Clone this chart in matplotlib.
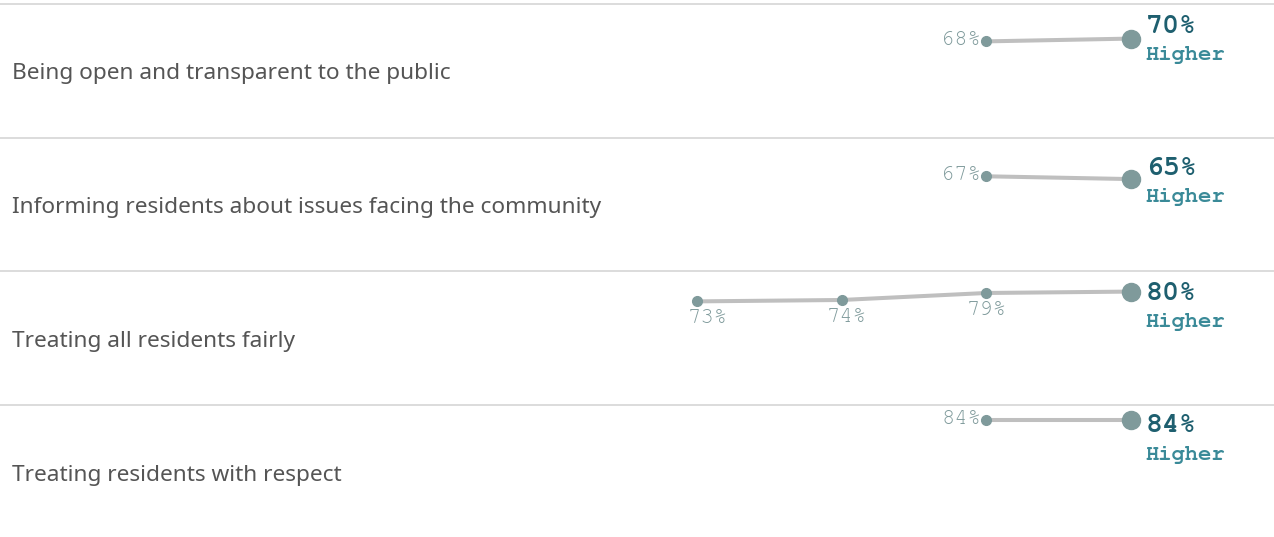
import matplotlib
matplotlib.use("Agg")
import matplotlib.pyplot as plt
import numpy as np
from matplotlib.lines import Line2D

# data
categories = [
    "Being open and transparent to the public",
    "Informing residents about issues facing the community",
    "Treating all residents fairly",
    "Treating residents with respect",
]
periods = [0, 1, 2, 3]
open_transparent = [np.nan, np.nan, 68, 70]
informing = [np.nan, np.nan, 67, 65]
fairly = [73, 74, 79, 80]
respect = [np.nan, np.nan, 84, 84]
series = [open_transparent, informing, fairly, respect]
trend = ["Higher", "Higher", "Higher", "Higher"]

W, H = 1274, 537
row_tops = [4, 137.5, 271, 405]
row_h = 134

LINE_C = "#bfbfbf"
DOT_C = "#7f9a9b"
BIG_C = "#1e5f6f"
TREND_C = "#3a8a98"
LABEL_C = "#555555"
SMALL_C = "#7f9a9b"
GRID_C = "#d9d9d9"
MONO = ["Nimbus Mono PS", "FreeMono", "Courier New", "Liberation Mono"]

# label offsets (pixels) for the last value / trend text per row
big_dy = [12, 10, -2, -6]
trend_dy = [-16, -18, -30, -35]
# x offsets for the under-point labels when a row has a full series
under_dx = [11, 5, 0]

fig = plt.figure(figsize=(W / 100, H / 100), dpi=100)

for top in row_tops:
    fig.add_artist(Line2D([0, 1], [1 - top / H] * 2, color=GRID_C, lw=1.3))

x0_px, x3_px = 697, 1131
step = (x3_px - x0_px) / 3
ax_left, ax_right = 688, 1140

for i, (name, vals) in enumerate(zip(categories, series)):
    top = row_tops[i]
    fig.text(12 / W, 1 - (top + row_h / 2 + 3) / H, name, ha="left", va="center",
             fontsize=16.3, color=LABEL_C, family="Noto Sans")

    ax = fig.add_axes([ax_left / W, 1 - (top + row_h) / H,
                       (ax_right - ax_left) / W, row_h / H])
    ax.set_xlim(-(x0_px - ax_left) / step, 3 + (ax_right - x3_px) / step)
    ax.set_ylim(-1, 94.7)
    ax.axis("off")

    v = np.array(vals, dtype=float)
    ok = ~np.isnan(v)
    xs = np.array(periods)[ok]
    ys = v[ok]
    ax.plot(xs, ys, color=LINE_C, lw=2.9, solid_capstyle="butt", zorder=1)
    ax.plot(xs[:-1], ys[:-1], "o", color=DOT_C, ms=7, zorder=2, clip_on=False)
    ax.plot(xs[-1], ys[-1], "o", color=DOT_C, ms=13, zorder=2, clip_on=False)

    # earlier values
    n_prev = len(xs) - 1
    for k in range(n_prev):
        lab = f"{ys[k]:.0f}%"
        if n_prev == 1:
            ax.annotate(lab, (xs[k], ys[k]), xytext=(-5, 1), textcoords="offset pixels",
                        ha="right", va="center", fontsize=16, color=SMALL_C,
                        family=MONO, annotation_clip=False)
        else:
            ax.annotate(lab, (xs[k], ys[k]), xytext=(under_dx[k], -17),
                        textcoords="offset pixels", ha="center", va="center",
                        fontsize=16, color=SMALL_C, family=MONO,
                        annotation_clip=False)

    ax.annotate(f"{ys[-1]:.0f}%", (xs[-1], ys[-1]), xytext=(15, big_dy[i]),
                textcoords="offset pixels", ha="left", va="center", fontsize=20.3,
                fontweight="bold", color=BIG_C, family=MONO, annotation_clip=False)
    ax.annotate(trend[i], (xs[-1], ys[-1]), xytext=(14, trend_dy[i]),
                textcoords="offset pixels", ha="left", va="center", fontsize=15.9,
                fontweight="bold", color=TREND_C, family=MONO, annotation_clip=False)

fig.savefig("out.png", dpi=100)
